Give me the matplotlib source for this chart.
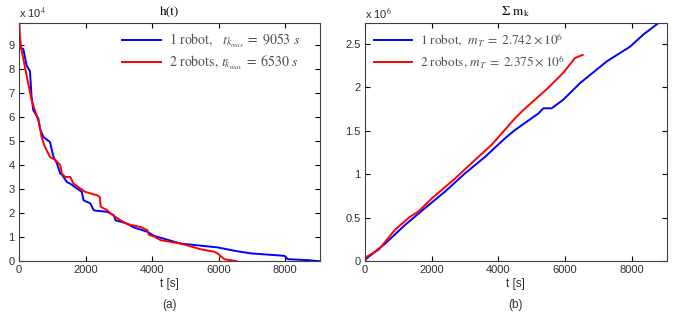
import numpy as np
import matplotlib
matplotlib.use('Agg')
import matplotlib.pyplot as plt

# h(t) in units of 1e4, t in seconds
t_h_1robot = [0, 20, 130, 230, 330, 380, 430, 580, 630, 735, 935, 990, 1040, 1140, 1240,
              1290, 1440, 1540, 1740, 1890, 1940, 2145, 2245, 2295, 2650, 2850, 2900,
              3250, 3450, 3860, 4060, 4860, 5970, 6475, 6980, 7980, 8080, 8690, 8990, 9053]
h_1robot = [9.32, 8.86, 8.83, 8.14, 7.90, 6.82, 6.27, 5.94, 5.52, 5.16, 4.95, 4.60, 4.33, 4.06, 3.64,
            3.60, 3.29, 3.22, 3.02, 2.88, 2.53, 2.40, 2.12, 2.10, 2.05, 1.91, 1.70,
            1.56, 1.40, 1.22, 1.05, 0.73, 0.57, 0.43, 0.32, 0.22, 0.08, 0.04, 0.0, 0.0]

t_h_2robots = [0, 15, 30, 80, 180, 280, 380, 480, 610, 680, 780, 935, 1100, 1240, 1290,
               1390, 1540, 1640, 1990, 2345, 2425, 2460, 2650, 2750, 3050, 3250, 3650,
               3860, 3900, 4060, 4260, 4860, 5470, 5870, 5970, 6170, 6400, 6530]
h_2robots = [9.90, 9.80, 9.31, 8.76, 8.07, 7.38, 6.69, 6.27, 5.72, 5.16, 4.75, 4.33, 4.20, 3.99, 3.64,
             3.50, 3.50, 3.22, 2.88, 2.74, 2.67, 2.26, 2.12, 1.98, 1.70, 1.54, 1.42,
             1.29, 1.10, 1.02, 0.87, 0.73, 0.49, 0.39, 0.32, 0.08, 0.03, 0.0]

# cumulative sum of m_k in units of 1e6
t_m_1robot = [0, 50, 600, 1200, 1800, 2400, 3000, 3600, 4200, 4500, 5200, 5350, 5600,
              5950, 6450, 7250, 7950, 8350, 8800, 9053]
m_1robot = [0, 0.03, 0.20, 0.415, 0.61, 0.80, 1.01, 1.20, 1.415, 1.51, 1.70, 1.76, 1.76,
            1.86, 2.05, 2.30, 2.47, 2.61, 2.742, 2.742]

t_m_2robots = [0, 50, 400, 900, 1350, 1600, 2000, 2700, 3300, 3800, 4500, 4750, 5450,
               5950, 6300, 6530]
m_2robots = [0, 0.05, 0.127, 0.36, 0.51, 0.57, 0.72, 0.95, 1.165, 1.34, 1.645, 1.74, 1.98,
             2.17, 2.34, 2.375]

labels_h = [r'1 robot,   $t_{k_{max}}\; =\; 9053\ s$', r'2 robots, $t_{k_{max}}\; =\; 6530\ s$']
labels_m = [r'1 robot,  $m_T\; =\; 2.742 \times 10^6$', r'2 robots, $m_T\; =\; 2.375 \times 10^6$']

plt.rcParams['mathtext.fontset'] = 'stix'
plt.rcParams['font.family'] = ['Liberation Sans', 'DejaVu Sans']

fig = plt.figure(figsize=(6.77, 3.2), dpi=100)
ax1 = fig.add_axes([0.028, 0.184, 0.445, 0.744])
ax2 = fig.add_axes([0.539, 0.184, 0.446, 0.744])

tick_col = '#303030'
for ax in (ax1, ax2):
    ax.tick_params(direction='in', top=True, right=True, length=3.5, width=0.8,
                   labelsize=8, labelcolor=tick_col, pad=3)
    for s in ax.spines.values():
        s.set_color('#404040')
        s.set_linewidth(0.8)
    ax.set_xlim(0, 9053)
    ax.set_xticks([0, 2000, 4000, 6000, 8000])
    ax.set_xlabel('t [s]', fontsize=8.5, color=tick_col, labelpad=2)

ax1.plot(t_h_1robot, h_1robot, color='#0000ff', lw=1.4, label=labels_h[0])
ax1.plot(t_h_2robots, h_2robots, color='#ff0000', lw=1.4, label=labels_h[1])
ax1.set_ylim(0, 9.9)
ax1.set_yticks(range(10))
ax1.set_title('h(t)', family='STIXGeneral', fontsize=9.5, pad=5)
ax1.text(0, 1.02, r'x 10$^{4}$', transform=ax1.transAxes, fontsize=8, color=tick_col,
         family='Liberation Sans')
ax1.legend(loc='upper left', bbox_to_anchor=(0.3, 1.015), frameon=False,
           prop={'family': 'STIXGeneral', 'size': 10}, labelcolor='#505050',
           handlelength=2.8, handletextpad=0.6, labelspacing=0.3)
ax1.text(0.5, -0.185, '(a)', transform=ax1.transAxes, ha='center', va='center',
         fontsize=8.5, color=tick_col)

ax2.plot(t_m_1robot, m_1robot, color='#0000ff', lw=1.4, label=labels_m[0])
ax2.plot(t_m_2robots, m_2robots, color='#ff0000', lw=1.4, label=labels_m[1])
ax2.set_ylim(0, 2.742)
ax2.set_yticks([0, 0.5, 1, 1.5, 2, 2.5])
ax2.set_yticklabels(['0', '0.5', '1', '1.5', '2', '2.5'])
ax2.set_title(r'$\Sigma$ m$_{\rm k}$', family='STIXGeneral', fontsize=9.5, pad=6)
ax2.text(0, 1.02, r'x 10$^{6}$', transform=ax2.transAxes, fontsize=8, color=tick_col,
         family='Liberation Sans')
ax2.legend(loc='upper left', bbox_to_anchor=(-0.01, 1.015), frameon=False,
           prop={'family': 'STIXGeneral', 'size': 9.5}, labelcolor='#505050',
           handlelength=2.9, handletextpad=0.6, labelspacing=0.35)
ax2.text(0.5, -0.185, '(b)', transform=ax2.transAxes, ha='center', va='center',
         fontsize=8.5, color=tick_col)

fig.savefig('out.png', dpi=100)
